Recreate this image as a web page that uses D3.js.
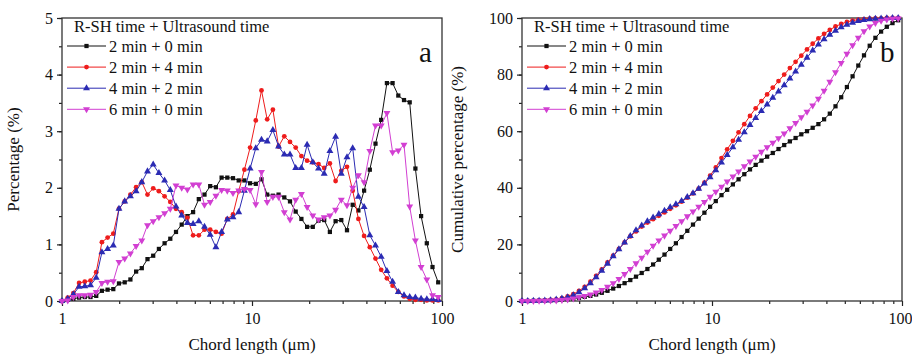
<!DOCTYPE html>
<html>
<head>
<meta charset="utf-8">
<script src="https://cdn.jsdelivr.net/npm/d3@7/dist/d3.min.js"></script>
<style>
  body { margin: 0; background: #fff; }
  svg { display: block; font-family: "Liberation Serif", "Times New Roman", serif; }
</style>
</head>
<body>
<div id="chart"></div>
<script>
// Chord length channels (um), log spaced
const chordLength = [
  1.000, 1.072, 1.148, 1.230, 1.318, 1.413, 1.514, 1.622, 1.738, 1.862,
  1.995, 2.138, 2.291, 2.455, 2.630, 2.818, 3.020, 3.236, 3.467, 3.715,
  3.981, 4.266, 4.571, 4.898, 5.248, 5.623, 6.026, 6.457, 6.918, 7.413,
  7.943, 8.511, 9.120, 9.772, 10.47, 11.22, 12.02, 12.88, 13.80, 14.79,
  15.85, 16.98, 18.20, 19.50, 20.89, 22.39, 23.99, 25.70, 27.54, 29.51,
  31.62, 33.88, 36.31, 38.90, 41.69, 44.67, 47.86, 51.29, 54.95, 58.88,
  63.10, 67.61, 72.44, 77.62, 83.18, 89.13, 95.50
];

const legendTitle = 'R-SH time + Ultrasound time';
const seriesNames = ['2 min + 0 min', '2 min + 4 min', '4 min + 2 min', '6 min + 0 min'];

// Panel a: percentage (%)
const pct_2_0 = [
  0.00, 0.02, 0.04, 0.06, 0.07, 0.07, 0.09, 0.18, 0.20, 0.21,
  0.31, 0.33, 0.38, 0.52, 0.58, 0.74, 0.80, 0.92, 1.02, 1.10,
  1.22, 1.35, 1.50, 1.57, 1.80, 1.88, 2.03, 2.01, 2.18, 2.18,
  2.17, 2.13, 2.13, 2.08, 2.07, 2.15, 1.88, 1.86, 1.88, 1.83,
  1.76, 1.58, 1.45, 1.31, 1.31, 1.42, 1.43, 1.22, 1.41, 1.43,
  1.25, 1.70, 1.60, 1.95, 2.32, 2.78, 3.20, 3.85, 3.85, 3.63,
  3.55, 3.51, 2.34, 1.50, 1.02, 0.60, 0.33
];
const pct_2_4 = [
  0.00, 0.06, 0.14, 0.32, 0.34, 0.36, 0.51, 1.04, 1.12, 1.19,
  1.63, 1.76, 1.88, 2.01, 2.10, 1.88, 1.99, 1.94, 1.85, 1.75,
  1.63, 1.57, 1.47, 1.16, 1.16, 1.26, 1.26, 1.22, 1.19, 1.45,
  1.53, 1.94, 2.32, 2.71, 3.19, 3.72, 3.21, 3.38, 2.73, 2.91,
  2.81, 2.71, 2.56, 2.48, 2.45, 2.42, 2.35, 2.43, 2.12, 2.30,
  2.37, 1.95, 1.45, 1.15, 0.95, 0.75, 0.55, 0.40, 0.27, 0.16,
  0.08, 0.04, 0.02, 0.02, 0.01, 0.01, 0.01
];
const pct_4_2 = [
  0.00, 0.04, 0.12, 0.25, 0.26, 0.28, 0.41, 0.86, 0.92, 0.98,
  1.63, 1.76, 1.85, 1.94, 2.10, 2.29, 2.41, 2.26, 2.13, 1.96,
  1.67, 1.51, 1.38, 1.36, 1.41, 1.31, 1.17, 0.95, 1.22, 1.44,
  1.48, 1.57, 1.95, 2.34, 2.70, 2.85, 2.82, 3.02, 2.73, 2.59,
  2.59, 2.35, 2.35, 2.76, 2.45, 2.34, 2.25, 2.65, 2.90, 2.25,
  2.54, 2.70, 1.84, 1.66, 1.16, 0.98, 0.78, 0.53, 0.34, 0.16,
  0.10, 0.07, 0.06, 0.04, 0.03, 0.03, 0.02
];
const pct_6_0 = [
  0.00, 0.01, 0.07, 0.10, 0.10, 0.11, 0.16, 0.32, 0.34, 0.35,
  0.69, 0.75, 0.84, 0.97, 1.07, 1.34, 1.41, 1.48, 1.55, 1.63,
  2.04, 2.00, 1.97, 2.06, 2.06, 1.70, 1.75, 1.86, 1.96, 1.95,
  1.91, 1.95, 1.98, 1.96, 1.71, 2.28, 1.75, 1.84, 1.84, 1.57,
  1.44, 1.79, 1.89, 1.66, 1.51, 1.44, 1.48, 1.51, 1.61, 1.79,
  1.69, 2.00, 2.22, 2.10, 2.65, 3.10, 3.10, 3.32, 2.63, 2.66,
  2.76, 1.67, 1.07, 0.60, 0.38, 0.10, 0.07
];

// Panel b: cumulative percentage (%)
const cum_2_0 = [
  0.0, 0.0, 0.05, 0.1, 0.15, 0.2, 0.3, 0.45, 0.65, 0.85,
  1.15, 1.45, 1.8, 2.3, 2.9, 3.6, 4.4, 5.3, 6.3, 7.4,
  8.6, 9.9, 11.3, 12.9, 14.6, 16.4, 18.4, 20.4, 22.6, 24.8,
  27.0, 29.1, 31.2, 33.3, 35.3, 37.4, 39.3, 41.2, 43.0, 44.8,
  46.5, 48.1, 49.6, 51.0, 52.3, 53.7, 55.1, 56.4, 57.6, 58.9,
  60.0, 61.2, 62.5, 64.2, 66.2, 68.8, 72.0, 75.6, 79.4, 83.2,
  86.8, 90.2, 93.0, 95.2, 96.9, 98.2, 99.2
];
const cum_2_4 = [
  0.0, 0.02, 0.05, 0.1, 0.2, 0.35, 0.6, 1.0, 1.6, 2.4,
  3.6, 5.0, 6.8, 8.9, 11.2, 13.6, 16.0, 18.4, 20.7, 22.8,
  24.6, 26.3, 27.7, 28.9, 30.1, 31.3, 32.6, 33.8, 35.1, 36.5,
  38.0, 39.7, 41.8, 44.3, 47.2, 50.5, 53.6, 56.6, 59.6, 62.5,
  65.4, 68.1, 70.6, 73.0, 75.4, 77.7, 80.0, 82.3, 84.5, 86.7,
  88.9, 90.9, 92.8, 94.4, 95.8, 97.0, 97.9, 98.6, 99.1, 99.4,
  99.6, 99.8, 99.9, 99.9, 100, 100, 100
];
const cum_4_2 = [
  0.0, 0.02, 0.05, 0.1, 0.18, 0.3, 0.5, 0.85, 1.35, 2.0,
  3.1, 4.5, 6.3, 8.4, 10.7, 13.2, 15.8, 18.3, 20.7, 23.0,
  25.0, 26.7, 28.2, 29.5, 30.7, 31.9, 33.1, 34.2, 35.3, 36.7,
  38.1, 39.7, 41.5, 43.7, 46.2, 48.9, 51.6, 54.3, 57.0, 59.6,
  62.2, 64.7, 67.1, 69.4, 71.8, 74.0, 76.2, 78.6, 81.1, 83.5,
  86.0, 88.5, 90.6, 92.5, 94.1, 95.5, 96.7, 97.6, 98.3, 98.9,
  99.3, 99.6, 99.7, 99.8, 99.9, 100, 100
];
const cum_6_0 = [
  0.0, 0.01, 0.03, 0.06, 0.1, 0.15, 0.22, 0.35, 0.55, 0.85,
  1.3, 1.8, 2.3, 3.0, 3.9, 5.0, 6.3, 7.8, 9.5, 11.3,
  13.3, 15.3, 17.4, 19.5, 21.4, 23.1, 24.8, 26.5, 28.2, 29.9,
  31.6, 33.3, 35.0, 36.8, 38.6, 40.4, 42.2, 44.0, 45.8, 47.6,
  49.3, 51.0, 52.7, 54.3, 55.9, 57.5, 59.2, 61.0, 62.9, 64.9,
  66.9, 69.1, 71.5, 74.3, 77.5, 80.8, 84.1, 87.4, 90.4, 93.0,
  95.3, 97.0, 98.2, 99.0, 99.5, 99.7, 99.8
];

const xTickLabels = [1, 10, 100];
const yTicksA = [0, 1, 2, 3, 4, 5];
const yTicksB = [0, 20, 40, 60, 80, 100];

const colors = ['#111111', '#ee1c1c', '#2b2bb3', '#d23fd2'];
const shapes = ['square', 'circle', 'up', 'down'];

const svg = d3.select('#chart').append('svg')
  .attr('width', 912)
  .attr('height', 355);

drawPanel({
  left: 62, right: 442, top: 18, bottom: 301,
  yMax: 5, yTicks: yTicksA, yMinorStep: 0.5,
  series: [pct_2_0, pct_2_4, pct_4_2, pct_6_0],
  yLabel: 'Percentage (%)', yLabelX: 19,
  tag: 'a', tagX: 419
});

drawPanel({
  left: 522, right: 902, top: 18, bottom: 301,
  yMax: 100, yTicks: yTicksB, yMinorStep: 10,
  series: [cum_2_0, cum_2_4, cum_4_2, cum_6_0],
  yLabel: 'Cumulative percentage (%)', yLabelX: 463,
  tag: 'b', tagX: 880
});

// "100" at the far right sits on the page edge: keep it inside
svg.selectAll('.xlab-b .tick text')
  .filter(d => d === 100)
  .attr('text-anchor', 'end')
  .attr('dx', 10);

function markerPath(shape) {
  if (shape === 'square') return d3.symbol(d3.symbolSquare, 18)();
  if (shape === 'circle') return d3.symbol(d3.symbolCircle, 18)();
  return d3.symbol(d3.symbolTriangle, 21)();
}

function drawPanel(p) {
  const x = d3.scaleLog().domain([1, 100]).range([p.left, p.right]);
  const y = d3.scaleLinear().domain([0, p.yMax]).range([p.bottom, p.top]);

  // minor ticks first
  const xMinor = [];
  [1, 10].forEach(d => { for (let i = 2; i <= 9; i++) xMinor.push(d * i); });
  const yMinor = d3.range(0, p.yMax + 0.001, p.yMinorStep);

  const gxm = svg.append('g')
    .attr('transform', `translate(0,${p.bottom})`)
    .call(d3.axisBottom(x).tickValues(xMinor).tickSize(3).tickFormat(''));
  gxm.select('.domain').remove();

  const gym = svg.append('g')
    .attr('transform', `translate(${p.left},0)`)
    .call(d3.axisLeft(y).tickValues(yMinor).tickSize(3).tickFormat(''));
  gym.select('.domain').remove();

  const gx = svg.append('g')
    .attr('class', 'xlab-' + p.tag)
    .attr('transform', `translate(0,${p.bottom})`)
    .call(d3.axisBottom(x).tickValues(xTickLabels).tickSize(5).tickPadding(7).tickFormat(d3.format('d')));
  gx.select('.domain').remove();

  const gy = svg.append('g')
    .attr('transform', `translate(${p.left},0)`)
    .call(d3.axisLeft(y).tickValues(p.yTicks).tickSize(5).tickPadding(4).tickFormat(d3.format('d')));
  gy.select('.domain').remove();

  svg.selectAll('.tick line').attr('stroke', '#222').attr('stroke-width', 1.2);
  [gx, gy].forEach(g => g.selectAll('text')
    .attr('fill', '#111')
    .style('font-family', '"Liberation Serif", serif')
    .style('font-size', '16px'));

  // frame
  svg.append('rect')
    .attr('x', p.left).attr('y', p.top)
    .attr('width', p.right - p.left).attr('height', p.bottom - p.top)
    .attr('fill', 'none').attr('stroke', '#333').attr('stroke-width', 1.3);

  // series
  const line = d3.line()
    .x((d, i) => x(chordLength[i]))
    .y(d => y(d));

  p.series.forEach((data, s) => {
    svg.append('path')
      .datum(data)
      .attr('fill', 'none')
      .attr('stroke', colors[s])
      .attr('stroke-width', 1)
      .attr('d', line);

    svg.append('g').selectAll('path')
      .data(data)
      .enter().append('path')
      .attr('d', markerPath(shapes[s]))
      .attr('transform', (d, i) => `translate(${x(chordLength[i])},${y(d)})` + (shapes[s] === 'down' ? ' rotate(180)' : ''))
      .attr('fill', colors[s]);
  });

  // legend
  svg.append('text')
    .attr('x', p.left + 12)
    .attr('y', 32)
    .attr('fill', '#111')
    .style('font-size', '16.5px')
    .text(legendTitle);

  seriesNames.forEach((name, s) => {
    const ly = 46 + s * 21.1;
    svg.append('line')
      .attr('x1', p.left + 5).attr('x2', p.left + 44)
      .attr('y1', ly).attr('y2', ly)
      .attr('stroke', colors[s]).attr('stroke-width', 1);
    svg.append('path')
      .attr('d', markerPath(shapes[s]))
      .attr('transform', `translate(${p.left + 24.5},${ly})` + (shapes[s] === 'down' ? ' rotate(180)' : ''))
      .attr('fill', colors[s]);
    svg.append('text')
      .attr('x', p.left + 47)
      .attr('y', ly + 6)
      .attr('fill', '#111')
      .style('font-size', '16.5px')
      .text(name);
  });

  // panel letter
  svg.append('text')
    .attr('x', p.tagX)
    .attr('y', 62)
    .attr('fill', '#111')
    .style('font-size', '29px')
    .text(p.tag);

  // axis titles
  svg.append('text')
    .attr('x', (p.left + p.right) / 2)
    .attr('y', 350)
    .attr('text-anchor', 'middle')
    .attr('fill', '#111')
    .style('font-size', '17px')
    .text('Chord length (μm)');

  svg.append('text')
    .attr('transform', `translate(${p.yLabelX},${(p.top + p.bottom) / 2}) rotate(-90)`)
    .attr('text-anchor', 'middle')
    .attr('fill', '#111')
    .style('font-size', '17px')
    .text(p.yLabel);
}
</script>
</body>
</html>
